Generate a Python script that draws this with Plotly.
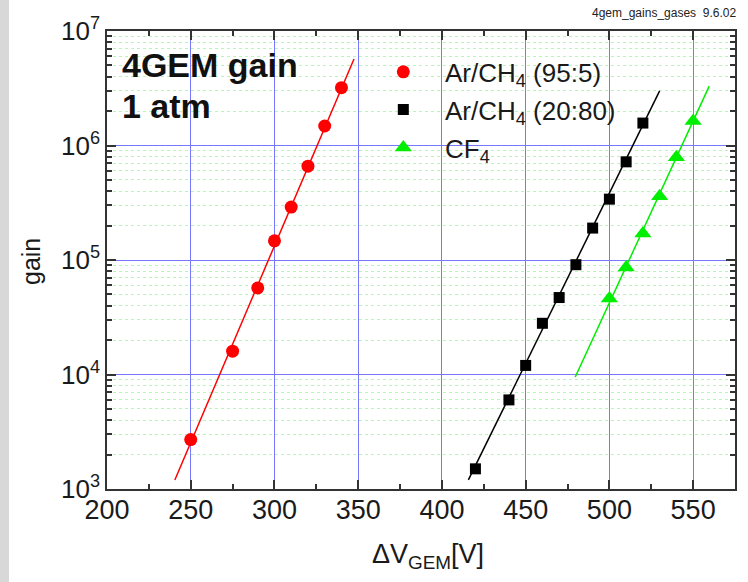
import plotly.graph_objects as go

# ---------------- data ----------------
v_arch4_95 = [250, 275, 290, 300, 310, 320, 330, 340]
g_arch4_95 = [2.7e3, 1.6e4, 5.7e4, 1.47e5, 2.9e5, 6.6e5, 1.48e6, 3.2e6]
fit_v_arch4_95 = [240.5, 347.5]
fit_g_arch4_95 = [1.2e3, 5.7e6]

v_arch4_20 = [420, 440, 450, 460, 470, 480, 490, 500, 510, 520]
g_arch4_20 = [1.5e3, 6.0e3, 1.2e4, 2.8e4, 4.7e4, 9.1e4, 1.9e5, 3.4e5, 7.2e5, 1.57e6]
fit_v_arch4_20 = [415.8, 530]
fit_g_arch4_20 = [1.2e3, 3.0e6]

v_cf4 = [500, 510, 520, 530, 540, 550]
g_cf4 = [4.6e4, 8.6e4, 1.7e5, 3.6e5, 7.9e5, 1.64e6]
fit_v_cf4 = [479.6, 559.6]
fit_g_cf4 = [9.5e3, 3.3e6]

x_ticks = [200, 250, 300, 350, 400, 450, 500, 550]
y_ticks = [1e3, 1e4, 1e5, 1e6, 1e7]
y_ticktext = ["10<sup>3</sup>", "10<sup>4</sup>", "10<sup>5</sup>", "10<sup>6</sup>", "10<sup>7</sup>"]
y_minor = [m * d for d in [1e3, 1e4, 1e5, 1e6] for m in range(2, 10)]

names = ["Ar/CH<sub>4</sub> (95:5)", "Ar/CH<sub>4</sub> (20:80)", "CF<sub>4</sub>"]

FONT = "Liberation Sans, Arial, sans-serif"
PAD = "\u00a0\u00a0\u00a0"

fig = go.Figure()

# fit lines
fig.add_trace(go.Scatter(x=fit_v_arch4_95, y=fit_g_arch4_95, mode="lines",
                         line=dict(color="#ff0000", width=1.5), showlegend=False, hoverinfo="skip"))
fig.add_trace(go.Scatter(x=fit_v_arch4_20, y=fit_g_arch4_20, mode="lines",
                         line=dict(color="#000000", width=1.5), showlegend=False, hoverinfo="skip"))
fig.add_trace(go.Scatter(x=fit_v_cf4, y=fit_g_cf4, mode="lines",
                         line=dict(color="#00ee00", width=1.5), showlegend=False, hoverinfo="skip"))

# data points
fig.add_trace(go.Scatter(x=v_arch4_95, y=g_arch4_95, mode="markers", name=PAD + names[0],
                         legendgroup="a",
                         marker=dict(symbol="circle", size=13, color="#ff0000")))
fig.add_trace(go.Scatter(x=v_arch4_20, y=g_arch4_20, mode="markers", name=PAD + names[1],
                         legendgroup="b",
                         marker=dict(symbol="square", size=11, color="#000000")))
fig.add_trace(go.Scatter(x=v_cf4, y=g_cf4, mode="markers", name=PAD + names[2],
                         legendgroup="c",
                         marker=dict(symbol="triangle-up", size=15, color="#00ee00")))

fig.update_xaxes(
    range=[200, 575], tickmode="array", tickvals=x_ticks,
    showline=True, linecolor="#333333", linewidth=1.5, mirror="ticks",
    ticks="inside", ticklen=9, tickwidth=1.5, tickcolor="#333333",
    showgrid=True, gridcolor="#7878ff", gridwidth=1,
    zeroline=False, ticklabelstandoff=-4,
    tickfont=dict(family=FONT, size=27, color="#1a1a1a"),
    minor=dict(dtick=25, tick0=200, ticks="inside", ticklen=5, tickwidth=1.5,
               tickcolor="#333333", showgrid=False),
)
fig.update_yaxes(
    type="log", range=[3, 7], tickmode="array", tickvals=y_ticks, ticktext=y_ticktext,
    showline=True, linecolor="#333333", linewidth=1.5, mirror="ticks",
    ticks="inside", ticklen=9, tickwidth=1.5, tickcolor="#333333",
    showgrid=True, gridcolor="#7878ff", gridwidth=1,
    zeroline=False,
    tickfont=dict(family=FONT, size=26, color="#1a1a1a"),
    minor=dict(tickmode="array", tickvals=y_minor, ticks="inside", ticklen=5, tickwidth=1.5,
               tickcolor="#333333", showgrid=True, gridcolor="#b8f5b8", griddash="dot", gridwidth=1),
)

fig.update_layout(
    width=748, height=582,
    margin=dict(l=107, r=13, t=31, b=93, pad=0),
    paper_bgcolor="white", plot_bgcolor="white",
    font=dict(family=FONT, color="#1a1a1a"),
    legend=dict(x=0.44, y=0.962, xanchor="left", yanchor="top",
                bgcolor="rgba(0,0,0,0)", borderwidth=0,
                font=dict(family=FONT, size=26, color="#1a1a1a"),
                tracegroupgap=1, itemwidth=30),
    showlegend=True,
)

PW = 628.0
PH = 458.0

def px_x(p):
    return (p - 107) / PW

def px_y(p):
    return 1 - (p - 31) / PH

# decorative grey strip on the left edge of the page
fig.add_shape(type="rect", xref="paper", yref="paper",
              x0=px_x(0), x1=px_x(9), y0=px_y(582), y1=px_y(0),
              fillcolor="#d8d8d8", line=dict(width=0), layer="below")

annotations = [
    dict(text="<b>4GEM gain</b>", x=px_x(120), y=px_y(65), xanchor="left", yanchor="middle",
         font=dict(family=FONT, size=34, color="#111111")),
    dict(text="<b>1 atm</b>", x=px_x(120), y=px_y(106), xanchor="left", yanchor="middle",
         font=dict(family=FONT, size=34, color="#111111")),
    dict(text="4gem_gains_gases  9.6.02", x=px_x(738), y=px_y(13), xanchor="right", yanchor="middle",
         font=dict(family=FONT, size=12, color="#222222")),
    dict(text="gain", x=px_x(31), y=px_y(262), xanchor="center", yanchor="middle", textangle=-90,
         font=dict(family=FONT, size=25, color="#1a1a1a")),
    dict(text="ΔV<sub>GEM</sub>[V]", x=px_x(428), y=px_y(556), xanchor="center", yanchor="middle",
         font=dict(family=FONT, size=27, color="#1a1a1a")),
]
for a in annotations:
    fig.add_annotation(xref="paper", yref="paper", showarrow=False, **a)

fig.write_html("out.html")
